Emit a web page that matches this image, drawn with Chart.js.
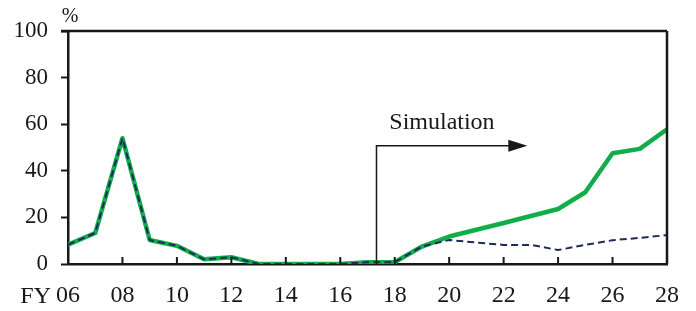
<!DOCTYPE html>
<html>
<head>
<meta charset="utf-8">
<script src="https://cdn.jsdelivr.net/npm/chart.js@4.4.1/dist/chart.umd.min.js"></script>
<style>
html,body{margin:0;padding:0;background:#fff;}
#wrap{width:696px;height:311px;position:relative;}
</style>
</head>
<body>
<div id="wrap"><canvas id="c" width="696" height="311"></canvas></div>
<script>
// Fiscal years (20xx)
const years = [6,7,8,9,10,11,12,13,14,15,16,17,18,19,20,21,22,23,24,25,26,27,28];
// Green solid series (%)
const seriesGreen = [8.3,13.3,54,10.3,7.8,2.0,2.9,0,0,0,0,0.8,0.8,7.5,11.8,14.7,17.6,20.6,23.6,30.8,47.5,49.4,57.8];
// Navy dashed series (%)
const seriesNavy = [8.3,13.3,54,10.3,7.8,2.0,2.9,0,0,0,0,0.8,0.8,7.5,10.3,9.2,8.2,8.2,6.0,8.2,10.2,11.2,12.4];
// Axis ticks
const yTicks = [0,20,40,60,80,100];
const xTickStep = 2;
// Annotation (data units)
const simStartYear = 17.33;
const simArrowEndYear = 22.87;
const simArrowLevel = 50.8;
const simLabel = 'Simulation';
const simLabelYear = 17.8;
const simLabelLevel = 57.9;

const FONT = "'Liberation Serif', 'Times New Roman', serif";
const INK = '#1a1718';

const toPts = arr => years.map((y,i)=>({x:y, y:arr[i]}));

const decor = {
  id:'decor',
  afterDraw(chart){
    const ctx = chart.ctx, a = chart.chartArea;
    const xs = chart.scales.x, ys = chart.scales.y;
    ctx.save();
    ctx.strokeStyle = INK;
    ctx.lineWidth = 2.5;
    ctx.beginPath();
    ctx.moveTo(a.left - 7, a.top); ctx.lineTo(a.right, a.top);
    ctx.moveTo(a.right, a.top); ctx.lineTo(a.right, a.bottom);
    ctx.stroke();
    // inward x ticks
    ctx.lineWidth = 2;
    ctx.beginPath();
    xs.ticks.forEach(t=>{
      const px = xs.getPixelForValue(t.value);
      ctx.moveTo(px, a.bottom); ctx.lineTo(px, a.bottom - 7);
    });
    ctx.stroke();
    // Simulation annotation
    const x0 = xs.getPixelForValue(simStartYear);
    const x1 = xs.getPixelForValue(simArrowEndYear);
    const yl = ys.getPixelForValue(simArrowLevel);
    ctx.lineWidth = 1.5;
    ctx.beginPath();
    ctx.moveTo(x0, a.bottom); ctx.lineTo(x0, yl); ctx.lineTo(x1 - 16, yl);
    ctx.stroke();
    ctx.fillStyle = INK;
    ctx.beginPath();
    ctx.moveTo(x1, yl); ctx.lineTo(x1 - 19, yl - 6); ctx.lineTo(x1 - 19, yl + 6); ctx.closePath();
    ctx.fill();
    ctx.font = '24px ' + FONT;
    ctx.textAlign = 'left'; ctx.textBaseline = 'alphabetic';
    ctx.fillText(simLabel, xs.getPixelForValue(simLabelYear), ys.getPixelForValue(simLabelLevel));
    // % unit
    ctx.font = '20px ' + FONT;
    ctx.textAlign = 'center';
    ctx.fillText('%', a.left + 2, a.top - 9);
    // FY prefix
    ctx.font = '24px ' + FONT;
    ctx.textAlign = 'right';
    ctx.fillText('FY', xs.getPixelForValue(years[0]) - 17, 303);
    ctx.restore();
  }
};

new Chart(document.getElementById('c'), {
  type:'line',
  data:{
    datasets:[
      {label:'dashed', data:toPts(seriesNavy), borderColor:'#1c2a5e', borderWidth:2, borderDash:[7,4], borderJoinStyle:'round', pointRadius:0, tension:0, fill:false, order:0},
      {label:'green', data:toPts(seriesGreen), borderColor:'#11ad4b', borderWidth:4.5, borderJoinStyle:'round', pointRadius:0, tension:0, fill:false, order:1}
    ]
  },
  options:{
    responsive:false, animation:false,
    layout:{padding:{top:31,right:28,left:0,bottom:0}},
    plugins:{legend:{display:false}, tooltip:{enabled:false}},
    scales:{
      x:{type:'linear', min:years[0], max:years[years.length-1],
        afterFit(s){ s.height = 47; },
        grid:{display:true, drawOnChartArea:false, drawTicks:false},
        border:{display:true, color:INK, width:2.5},
        ticks:{stepSize:xTickStep, padding:17, color:INK, font:{family:FONT, size:24},
          callback:v=>String(v).padStart(2,'0'), maxRotation:0, autoSkip:false}
      },
      y:{min:0, max:100,
        afterFit(s){ s.width = 68; },
        afterBuildTicks(s){ s.ticks = yTicks.map(v=>({value:v})); },
        grid:{display:true, drawOnChartArea:false, drawTicks:true, tickLength:7, tickColor:INK, tickWidth:2},
        border:{display:true, color:INK, width:2.5},
        ticks:{padding:13, color:INK, font:{family:FONT, size:23}}
      }
    }
  },
  plugins:[decor]
});
</script>
</body>
</html>
